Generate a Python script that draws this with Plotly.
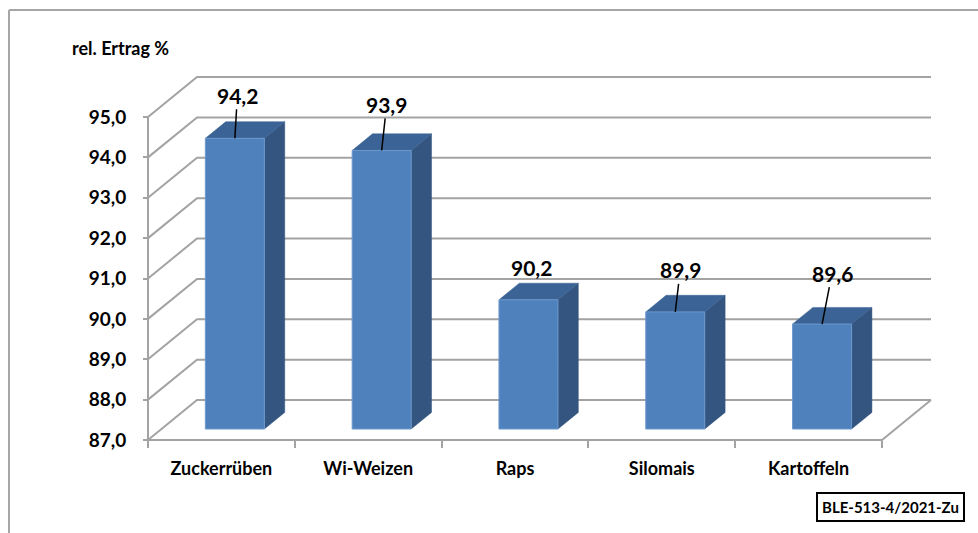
import plotly.graph_objects as go

# ---------------- data ----------------
categories = ["Zuckerrüben", "Wi-Weizen", "Raps", "Silomais", "Kartoffeln"]
values = [94.2, 93.9, 90.2, 89.9, 89.6]
y_ticks = [87, 88, 89, 90, 91, 92, 93, 94, 95]
y_title = "rel. Ertrag %"
source_note = "BLE-513-4/2021-Zu"

# ---------------- styling / geometry ----------------
W, H = 978, 533
X0_PX, Y0_PX = 148, 440          # pixel of front axis origin
PX_PER_CAT = 146.8
PX_PER_VAL = 40.375
DEPTH_PX = (49, 40)              # 3D depth of the chart box (px right, px up)
BAR_F0, BAR_F1 = 0.275, 0.69     # bar position within depth
BAR_W = 0.402                    # bar width in category units
FONT = "Lato"
GRID_COL = "#A3A3A3"
FRONT_COL = "#4F81BD"
SIDE_COL = "#33557F"
TOP_COL = "#3B6395"
# label offsets in pixels (text centre relative to bar top) and leader flags
LABEL_OFFSETS = [(2.5, -43), (5, -46), (3.5, -32), (5, -42), (10, -51)]
LEADER = [True, True, False, True, True]

n = len(categories)
base = y_ticks[0]
xmin = -0.5 - X0_PX / PX_PER_CAT
xmax = xmin + W / PX_PER_CAT
ymin = base - (H - Y0_PX) / PX_PER_VAL
ymax = ymin + H / PX_PER_VAL
DX = DEPTH_PX[0] / PX_PER_CAT
DY = DEPTH_PX[1] / PX_PER_VAL

fig = go.Figure()

# back wall gridlines + left wall diagonals
gx, gy = [], []
for t in y_ticks:
    gx += [-0.5, -0.5 + DX, n - 0.5 + DX, None]
    gy += [t, t + DY, t + DY, None]
# floor front edge and right diagonal
gx += [-0.5, n - 0.5, n - 0.5 + DX, None]
gy += [base, base, base + DY, None]
# front vertical axis line
gx += [-0.5, -0.5]
gy += [base, y_ticks[-1]]
fig.add_trace(go.Scatter(x=gx, y=gy, mode="lines",
                         line=dict(color=GRID_COL, width=2),
                         hoverinfo="skip", showlegend=False))

# bars (front, side, top faces)
fx, fy, sx, sy, tx, ty = [], [], [], [], [], []
ddx, ddy = (BAR_F1 - BAR_F0) * DX, (BAR_F1 - BAR_F0) * DY
for i, v in enumerate(values):
    cx = i + BAR_F0 * DX
    xl, xr = cx - BAR_W / 2, cx + BAR_W / 2
    yb, yt = base + BAR_F0 * DY, v + BAR_F0 * DY
    fx += [xl, xr, xr, xl, xl, None]
    fy += [yb, yb, yt, yt, yb, None]
    sx += [xr, xr + ddx, xr + ddx, xr, xr, None]
    sy += [yb, yb + ddy, yt + ddy, yt, yb, None]
    tx += [xl, xr, xr + ddx, xl + ddx, xl, None]
    ty += [yt, yt, yt + ddy, yt + ddy, yt, None]

fig.add_trace(go.Scatter(x=sx, y=sy, fill="toself", fillcolor=SIDE_COL, mode="lines",
                         line=dict(color=SIDE_COL, width=0.5), hoverinfo="skip", showlegend=False))
fig.add_trace(go.Scatter(x=tx, y=ty, fill="toself", fillcolor=TOP_COL, mode="lines",
                         line=dict(color=TOP_COL, width=0.5), hoverinfo="skip", showlegend=False))
fig.add_trace(go.Scatter(x=fx, y=fy, fill="toself", fillcolor=FRONT_COL, mode="lines",
                         line=dict(color="#6C98CC", width=1), hoverinfo="skip", showlegend=False))

# data labels with leader lines
for i, v in enumerate(values):
    px_, py_ = LABEL_OFFSETS[i]
    x_pt = i + BAR_F0 * DX
    y_pt = v + BAR_F0 * DY
    txt = f"{v:.1f}".replace(".", ",")
    if LEADER[i]:
        fig.add_annotation(x=x_pt, y=y_pt, xref="x", yref="y", text=txt,
                           showarrow=True, ax=px_, ay=py_, arrowhead=0,
                           arrowwidth=1.5, arrowcolor="black", standoff=0,
                           font=dict(family=FONT, size=21, color="black", weight="bold"))
    else:
        fig.add_annotation(x=x_pt, y=y_pt, xref="x", yref="y", text=txt,
                           showarrow=False, xshift=px_, yshift=-py_,
                           font=dict(family=FONT, size=21, color="black", weight="bold"))

# axis title
fig.add_annotation(x=70 / W, y=1 - 48 / H, xref="paper", yref="paper",
                   xanchor="left", yanchor="middle", text=y_title, showarrow=False,
                   font=dict(family=FONT, size=18, color="black", weight="bold"))

# source box
fig.add_annotation(x=890 / W, y=1 - 506.5 / H, xref="paper", yref="paper",
                   xanchor="center", yanchor="middle", text=source_note, showarrow=False,
                   bordercolor="black", borderwidth=2, borderpad=4, bgcolor="white",
                   font=dict(family=FONT, size=15, color="black", weight="bold"))

# chart area border (left and top visible)
fig.add_shape(type="line", xref="paper", yref="paper", x0=9 / W, x1=9 / W,
              y0=-0.05, y1=1 - 10 / H, line=dict(color="#A6A6A6", width=2))
fig.add_shape(type="line", xref="paper", yref="paper", x0=9 / W, x1=1.05,
              y0=1 - 10 / H, y1=1 - 10 / H, line=dict(color="#A6A6A6", width=2))

fig.update_layout(
    width=W, height=H, margin=dict(l=0, r=0, t=0, b=0, pad=0),
    paper_bgcolor="white", plot_bgcolor="white", separators=",.",
    showlegend=False,
    xaxis=dict(range=[xmin, xmax], domain=[0, 1], anchor="free",
               position=(H - Y0_PX) / H, showgrid=False, zeroline=False, showline=False,
               tickmode="array", tickvals=list(range(n)), ticktext=categories,
               ticks="", ticklabelstandoff=16,
               tickfont=dict(family=FONT, size=18, color="black", weight="bold"),
               minor=dict(tickmode="array", tickvals=[k - 0.5 for k in range(n + 1)],
                          ticks="outside", ticklen=7, tickcolor=GRID_COL, tickwidth=2,
                          showgrid=False),
               fixedrange=True),
    yaxis=dict(range=[ymin, ymax], domain=[0, 1], anchor="free",
               position=X0_PX / W, showgrid=False, zeroline=False, showline=False,
               tickmode="array", tickvals=y_ticks, tickformat=".1f",
               ticks="outside", ticklen=5, tickcolor=GRID_COL, tickwidth=2,
               ticklabelstandoff=13,
               tickfont=dict(family=FONT, size=19, color="black", weight="bold"),
               fixedrange=True),
)

fig.write_html("out.html")
